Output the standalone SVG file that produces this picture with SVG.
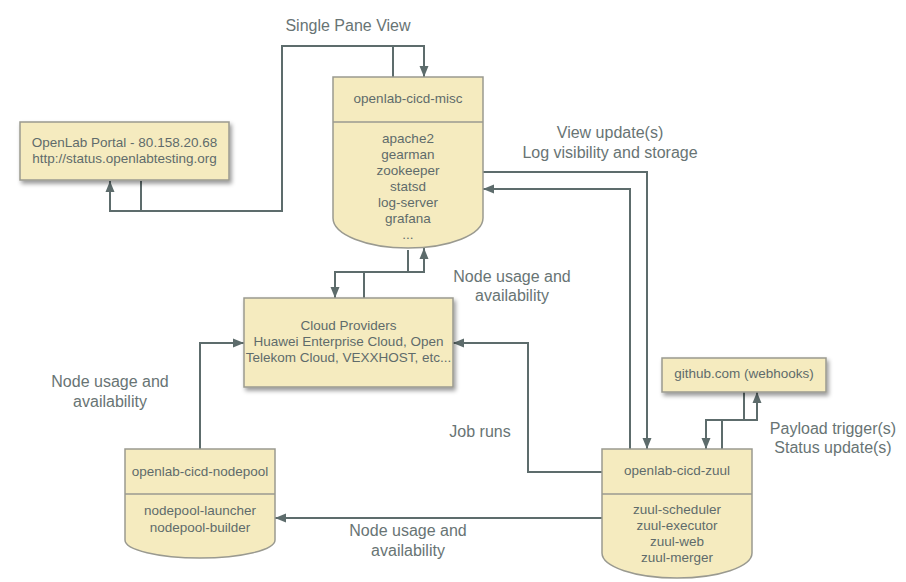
<svg xmlns="http://www.w3.org/2000/svg" width="906" height="582" viewBox="0 0 906 582">
<defs>
<marker id="arr" markerUnits="userSpaceOnUse" markerWidth="12" markerHeight="12" viewBox="0 0 12 12" refX="11" refY="6" orient="auto">
<path d="M0,1.5 L11,6 L0,10.5 Z" fill="#5d6c6c"/>
</marker>
<filter id="sh" x="-10%" y="-10%" width="125%" height="140%">
<feDropShadow dx="2" dy="3" stdDeviation="2" flood-color="#000" flood-opacity="0.4"/>
</filter>
</defs>
<style>
.box{fill:#f5ebbf;stroke:#9a9a90;stroke-width:1.5}
.t{font-family:"Liberation Sans",Arial,sans-serif;font-size:13.5px;fill:#5f6b6b;text-anchor:middle}
.l{font-family:"Liberation Sans",Arial,sans-serif;font-size:16px;fill:#687474;text-anchor:middle}
.c{fill:none;stroke:#5d6c6c;stroke-width:2;marker-end:url(#arr)}
</style>
<rect width="906" height="582" fill="#ffffff"/>

<g id="connectors">
<path class="c" d="M141,181 V211 H282 V46 H424 V77"/>
<path class="c" d="M393,77 V46 H282 V211 H110 V181"/>
<path class="c" d="M364,298 V272 H424 V248"/>
<path class="c" d="M408,250 V272 H335 V298"/>
<path class="c" d="M630,449 V189 H483"/>
<path class="c" d="M483,172 H647 V449"/>
<path class="c" d="M602,472 H528 V343 H453"/>
<path class="c" d="M200,449 V343 H244"/>
<path class="c" d="M602,518 H275"/>
<path class="c" d="M744,392 V420 H706 V449"/>
<path class="c" d="M722,449 V420 H757 V392"/>
</g>

<g id="portal">
<rect class="box" x="20" y="122" width="209" height="58" filter="url(#sh)"/>
<text class="t" x="124.5" y="147">OpenLab Portal - 80.158.20.68</text>
<text class="t" x="124.5" y="163">http://status.openlabtesting.org</text>
</g>

<g id="misc">
<path class="box" d="M333,77 H483 V218 A75,30 0 0 1 333,218 Z"/>
<line x1="333" y1="122" x2="483" y2="122" stroke="#9a9a90" stroke-width="1.5"/>
<text class="t" x="408" y="103">openlab-cicd-misc</text>
<text class="t" x="408" y="143">apache2</text>
<text class="t" x="408" y="159">gearman</text>
<text class="t" x="408" y="175">zookeeper</text>
<text class="t" x="408" y="191">statsd</text>
<text class="t" x="408" y="207">log-server</text>
<text class="t" x="408" y="223">grafana</text>
<text class="t" x="408" y="239">...</text>
</g>

<g id="cloud">
<rect class="box" x="244" y="298" width="209" height="89" filter="url(#sh)"/>
<text class="t" x="348.5" y="330">Cloud Providers</text>
<text class="t" x="348.5" y="346">Huawei Enterprise Cloud, Open</text>
<text class="t" x="348.5" y="362">Telekom Cloud, VEXXHOST, etc...</text>
</g>

<g id="github">
<rect class="box" x="662" y="358" width="164" height="34" filter="url(#sh)"/>
<text class="t" x="744" y="378">github.com (webhooks)</text>
</g>

<g id="zuul">
<path class="box" d="M602,449 H752 V553 A75,25 0 0 1 602,553 Z"/>
<line x1="602" y1="494" x2="752" y2="494" stroke="#9a9a90" stroke-width="1.5"/>
<text class="t" x="677" y="475">openlab-cicd-zuul</text>
<text class="t" x="677" y="514">zuul-scheduler</text>
<text class="t" x="677" y="530">zuul-executor</text>
<text class="t" x="677" y="546">zuul-web</text>
<text class="t" x="677" y="562">zuul-merger</text>
</g>

<g id="nodepool">
<path class="box" d="M125,449 H275 V540 A75,18 0 0 1 125,540 Z"/>
<line x1="125" y1="494" x2="275" y2="494" stroke="#9a9a90" stroke-width="1.5"/>
<text class="t" x="200" y="476">openlab-cicd-nodepool</text>
<text class="t" x="200" y="515">nodepool-launcher</text>
<text class="t" x="200" y="532">nodepool-builder</text>
</g>

<g id="labels">
<text class="l" x="348" y="31">Single Pane View</text>
<text class="l" x="610" y="138">View update(s)</text>
<text class="l" x="610" y="158">Log visibility and storage</text>
<text class="l" x="512" y="282">Node usage and</text>
<text class="l" x="512" y="301">availability</text>
<text class="l" x="110" y="387">Node usage and</text>
<text class="l" x="110" y="407">availability</text>
<text class="l" x="480" y="437">Job runs</text>
<text class="l" x="408" y="536">Node usage and</text>
<text class="l" x="408" y="556">availability</text>
<text class="l" x="833" y="434">Payload trigger(s)</text>
<text class="l" x="833" y="453">Status update(s)</text>
</g>
</svg>
